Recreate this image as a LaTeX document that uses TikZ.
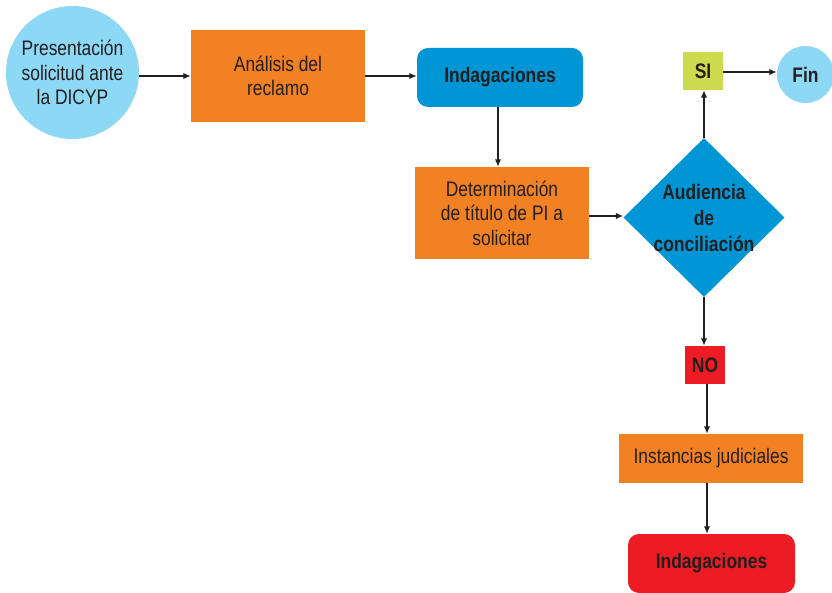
\documentclass[tikz,border=0pt]{standalone}
\usepackage{fontspec}
\setmainfont{Liberation Sans}[FakeStretch=0.83]
\usetikzlibrary{arrows.meta,shapes.geometric}
\definecolor{lblue}{HTML}{8DD8F5}
\definecolor{dblue}{HTML}{0096D6}
\definecolor{orng}{HTML}{F28123}
\definecolor{lime}{HTML}{CCDB4D}
\definecolor{redc}{HTML}{ED1C24}
\definecolor{ink}{HTML}{231F20}
\tikzset{
  txt/.style={font=\fontsize{21}{24.5}\selectfont, text=ink, align=center, inner sep=0pt},
  btxt/.style={font=\fontsize{21}{26}\selectfont\bfseries, text=ink, align=center, inner sep=0pt},
  circ/.style={circle, fill=lblue, inner sep=0pt},
  obox/.style={rectangle, fill=orng, inner sep=0pt},
  rbox/.style={rectangle, rounded corners=11pt, inner sep=0pt},
  conn/.style={draw=ink, line width=2.2pt, -{Latex[length=7.5pt,width=6.5pt]}}
}
\begin{document}
\begin{tikzpicture}[x=1pt,y=-1pt]
\useasboundingbox (0,0) rectangle (832,593);
\node[circ, minimum size=133pt, txt] (pres) at (72.5,72.5) {Presentación\\solicitud ante\\la DICYP};
\node[obox, minimum width=174pt, minimum height=92pt, txt] (anal) at (278,76) {Análisis del\\reclamo};
\node[rbox, fill=dblue, minimum width=166pt, minimum height=59pt, btxt] (ind1) at (500,77.5) {Indagaciones};
\node[obox, minimum width=174pt, minimum height=92pt, txt] (det) at (502,213) {Determinación\\de título de PI a\\solicitar};
\node[diamond, fill=dblue, minimum width=161pt, minimum height=159pt, inner sep=0pt] (aud) at (704,217.5) {};
\node[btxt] (audtxt) at (aud.center) {Audiencia\\de\\conciliación};
\node[rectangle, fill=lime, minimum width=40pt, minimum height=38pt, btxt] (si) at (703,71) {SI};
\node[circ, minimum size=57pt, btxt] (fin) at (805.5,74.5) {Fin};
\node[rectangle, fill=redc, minimum width=40pt, minimum height=38pt, btxt] (no) at (705,365) {NO};
\node[obox, minimum width=184pt, minimum height=49pt, txt] (inst) at (711,458.5) {Instancias judiciales};
\node[rbox, fill=redc, minimum width=167pt, minimum height=59pt, btxt] (ind2) at (711.5,563.5) {Indagaciones};
\draw[conn] (pres.east |- 0,76) -- (anal.west |- 0,76);
\draw[conn] (anal.east) -- (ind1.west |- anal.east);
\draw[conn] (ind1.south -| 498,0) -- (det.north -| 498,0);
\draw[conn] (det.east |- 0,216) -- (aud.west |- 0,216);
\draw[conn] (aud.north) -- (si.south -| aud.north);
\draw[conn] (si.east |- 0,72) -- (fin.west |- 0,72);
\draw[conn] (aud.south) -- (no.north -| aud.south);
\draw[conn] (no.south -| 707,0) -- (inst.north -| 707,0);
\draw[conn] (inst.south -| 707,0) -- (ind2.north -| 707,0);
\end{tikzpicture}
\end{document}
